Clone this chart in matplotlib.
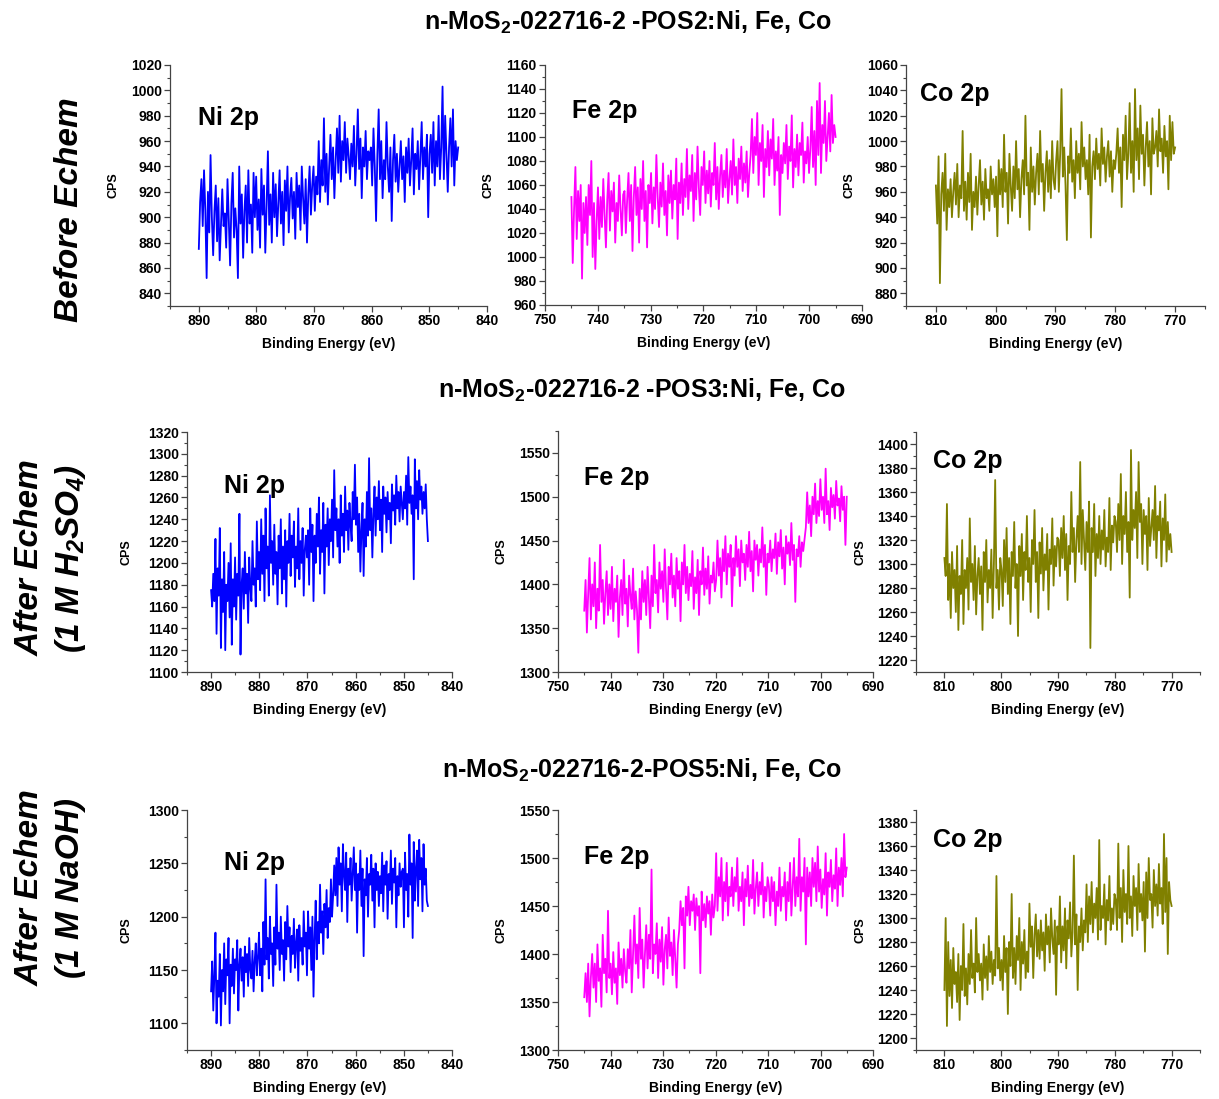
import numpy as np
import matplotlib
matplotlib.use("Agg")
import matplotlib.pyplot as plt
from matplotlib.ticker import MultipleLocator

plt.rcParams['font.family'] = ['Liberation Sans', 'DejaVu Sans']
plt.rcParams['font.weight'] = 'bold'
plt.rcParams['mathtext.fontset'] = 'custom'
plt.rcParams['mathtext.bf'] = 'Liberation Sans:bold'
plt.rcParams['mathtext.bfit'] = 'Liberation Sans:italic:bold'

# ---- data (counts per second) ----
# energy ranges of each scan (start, end) in eV
ni_range = (890, 845)
fe_range = (745, 695)
co_range = (810, 770)

# POS2 - before echem
ni_pos2 = [875, 912, 930, 893, 937, 905, 852, 920, 888, 949, 900, 870, 905, 925, 881, 915, 866, 895, 922, 893,
           903, 876, 930, 898, 862, 911, 935, 884, 907, 890, 852, 940, 895, 918, 868, 905, 925, 880, 937, 895,
           910, 872, 935, 900,
           932, 890, 914, 876, 938, 902, 925, 872, 909, 952, 894, 918, 880, 935, 900, 926, 885, 912, 937, 895,
           920, 878, 929, 905, 940, 888, 916, 931, 899, 920, 883, 935, 908, 925, 890, 940, 915, 895, 930, 880,
           918, 940, 902, 925,
           940, 905, 932, 918, 960, 912, 945, 925, 978, 920, 950, 910, 940, 965, 930, 955, 915, 945, 970, 935,
           980, 928, 960, 945, 975, 935, 962, 948, 930, 958, 940, 972, 925, 950, 985, 938, 962, 915, 955, 940,
           968, 930, 952, 945,
           955, 925, 970, 940, 897, 950, 985, 930, 960, 915, 945, 930, 975, 940, 920, 955, 897, 945, 965, 928,
           950, 920, 940, 960, 930, 948, 912, 955, 935, 962, 925, 945, 970, 918, 950, 938, 960, 922, 948, 975,
           930, 955, 940, 965,
           900, 950, 965, 935, 975, 925, 960, 940, 980, 930, 955, 1003, 930, 980, 950, 920, 955, 978, 940, 985,
           925, 960, 945, 955]
fe_pos2 = [1050, 995, 1040, 1075, 1015, 1055, 1030, 1060, 982, 1045, 1020, 1050, 1010, 1060, 1035, 1080, 1000,
           1045, 990, 1030, 1058, 1015, 1050, 1025, 1065, 1035, 1008, 1048, 1070, 1022, 1055, 1038, 1062, 1012,
           1045, 1030, 1068, 1040, 1018, 1052,
           1055, 1020, 1048, 1070, 1030, 1060, 1005, 1050, 1075, 1035, 1058, 1012, 1065, 1040, 1080, 1030, 1055,
           1008, 1060, 1045, 1070, 1028, 1058, 1040, 1085, 1050, 1025, 1062, 1042, 1078, 1035, 1055, 1018, 1068,
           1045, 1072, 1032, 1060, 1048, 1082,
           1015, 1062, 1045, 1078, 1035, 1065, 1050, 1090, 1040, 1068, 1055, 1085, 1030, 1070, 1048, 1092, 1058,
           1035, 1075, 1060, 1088, 1045, 1072, 1053, 1080, 1042, 1070, 1060, 1095, 1048, 1075, 1040, 1068, 1085,
           1050, 1072, 1058, 1090, 1045, 1065, 1080, 1052, 1098, 1060, 1075, 1045, 1082, 1065, 1092, 1055, 1078,
           1062, 1088, 1050, 1070, 1085,
           1115, 1070, 1100, 1085, 1120, 1060, 1095, 1080, 1110, 1050, 1090, 1075, 1105, 1068, 1098, 1082, 1115,
           1060, 1088, 1072, 1100, 1035, 1085, 1070, 1095, 1078, 1110, 1065, 1092, 1080, 1118, 1058, 1090, 1075,
           1102, 1068, 1095, 1085, 1112, 1062, 1088, 1078, 1100, 1070,
           1090, 1125, 1075, 1105, 1060, 1130, 1085, 1145, 1070, 1110, 1095, 1130, 1080, 1100, 1120, 1088, 1135,
           1095, 1110, 1100]
co_pos2 = [965, 935, 988, 888, 958, 975, 945, 990, 930, 962, 948, 970, 940, 960, 975, 950, 982, 940, 965, 955,
           1008, 945, 968, 938, 975, 952, 990, 930, 960, 948, 972, 942, 965, 985, 950, 968, 938, 978, 955, 962,
           945, 980, 958, 970, 948,
           972, 925, 985, 958, 978, 948, 1005, 960, 975, 935, 990, 965, 945, 980, 955, 1000, 962, 978, 940, 970,
           985, 958, 1020, 965, 975, 930, 995, 960, 980, 950, 975, 990, 958, 1008, 968, 982, 945, 975, 992, 960,
           985, 955, 1000, 970, 962,
           985, 1000, 960, 990, 1041, 972, 995, 965, 922, 988, 975, 1010, 968, 985, 955, 1000, 975, 990, 962,
           1015, 980, 995, 970, 985, 958, 1005, 924, 980, 992, 970, 1002, 978, 990, 965, 1010, 982, 995, 968,
           988, 1000, 972, 992, 960, 985, 978,
           990, 1010, 975, 995, 948, 1005, 985, 1020, 970, 990, 1030, 975, 1000, 960, 1041, 985, 1010, 970, 1028,
           990, 1005, 965, 995, 1015, 980, 1000, 958, 1018, 990, 995, 1008, 980, 1025, 992, 1002, 975, 1012, 988,
           1000, 962, 1020, 985, 1015, 990, 995]

# POS3 - after echem in 1 M H2SO4
ni_pos3 = [1175, 1160, 1190, 1165, 1222, 1135, 1195, 1170, 1232, 1122, 1185, 1155, 1210, 1120, 1180, 1165, 1200,
           1150, 1218, 1125, 1185, 1160, 1205, 1148, 1190, 1170, 1245, 1116, 1180, 1195, 1158, 1210, 1172, 1190,
           1145, 1205, 1178, 1165, 1220, 1180, 1195, 1160, 1238, 1185,
           1210, 1175, 1240, 1190, 1225, 1165, 1250, 1195, 1215, 1170, 1262, 1200, 1220, 1180, 1235, 1190, 1210,
           1162, 1225, 1195, 1240, 1172, 1215, 1185, 1230, 1160, 1220, 1200, 1245, 1188, 1225, 1205, 1238, 1178,
           1215, 1195, 1250, 1185, 1220, 1200, 1232, 1170, 1212, 1225,
           1205, 1230, 1180, 1250, 1210, 1235, 1165, 1225, 1200, 1245, 1215, 1260, 1190, 1230, 1210, 1255, 1172,
           1235, 1215, 1250, 1198, 1240, 1220, 1258, 1205, 1285, 1230, 1250, 1215, 1240, 1200, 1262, 1225, 1245,
           1210, 1270, 1230, 1248, 1212, 1255, 1235, 1220, 1265, 1240,
           1290, 1235, 1260, 1210, 1245, 1192, 1230, 1255, 1188, 1240, 1215, 1265, 1225, 1296, 1230, 1250, 1205,
           1245, 1270, 1225, 1260, 1240, 1275, 1230, 1258, 1210, 1270, 1245, 1260, 1228, 1265, 1240, 1255, 1218,
           1272, 1248, 1262, 1235, 1280, 1250, 1265, 1238, 1270, 1255,
           1240, 1265, 1250, 1280, 1235, 1297, 1255, 1270, 1245, 1262, 1185, 1295, 1250, 1275, 1240, 1285, 1258,
           1270, 1245, 1265, 1250, 1272, 1240, 1220]
fe_pos3 = [1370, 1405, 1345, 1390, 1430, 1360, 1400, 1375, 1425, 1350, 1395, 1370, 1445, 1380, 1405, 1355, 1390,
           1415, 1365, 1400, 1372, 1420, 1358, 1395, 1380, 1410, 1340, 1385, 1405, 1365, 1428, 1378, 1395, 1352,
           1410, 1388, 1372, 1418, 1360, 1392,
           1370, 1322, 1395, 1360, 1415, 1380, 1405, 1365, 1420, 1385, 1350, 1410, 1375, 1445, 1390, 1405, 1368,
           1425, 1395, 1415, 1380, 1440, 1395, 1360, 1420, 1400, 1435, 1385, 1410, 1375, 1430, 1395, 1415, 1358,
           1425, 1400, 1445, 1390, 1420, 1382, 1412, 1398, 1438, 1372, 1408, 1390, 1428, 1365, 1415, 1400, 1442,
           1388, 1418, 1395, 1432, 1378, 1410, 1402, 1425, 1392,
           1405, 1450, 1410, 1430, 1385, 1440, 1415, 1455, 1400, 1435, 1420, 1445, 1375, 1430, 1410, 1455, 1420,
           1440, 1398, 1450, 1425, 1435, 1405, 1445, 1420, 1460, 1415, 1438, 1392, 1450, 1428, 1445, 1410, 1440,
           1425, 1465, 1420, 1445, 1388, 1435, 1425, 1450, 1415, 1440, 1430, 1458, 1412, 1448, 1432, 1462, 1418,
           1442, 1400, 1455, 1435, 1448, 1422, 1470, 1428, 1445, 1380, 1440, 1432, 1455, 1420, 1448, 1438, 1452,
           1465, 1505, 1470, 1490, 1455, 1500, 1480, 1515, 1470, 1495, 1478, 1520, 1485, 1500, 1470, 1532, 1480,
           1495, 1462, 1510, 1488, 1502, 1475, 1518, 1490, 1498, 1472, 1512, 1485, 1500, 1445, 1500]
co_pos3 = [1305, 1290, 1350, 1270, 1300, 1255, 1310, 1280, 1295, 1260, 1315, 1245, 1290, 1275, 1320, 1250, 1295,
           1280, 1305, 1262, 1338, 1285, 1300, 1270, 1315, 1258, 1290, 1305, 1275, 1298, 1245, 1310, 1285, 1320,
           1268, 1295, 1280, 1312, 1255, 1300, 1370, 1280, 1295, 1262, 1305,
           1295, 1265, 1320, 1285, 1330, 1275, 1305, 1250, 1310, 1290, 1335, 1280, 1300, 1240, 1315, 1290, 1325,
           1270, 1310, 1295, 1340, 1285, 1305, 1260, 1320, 1300, 1345, 1285, 1310, 1255, 1318, 1292, 1330, 1278,
           1308, 1295, 1325, 1262, 1312, 1300, 1338, 1282, 1315, 1298, 1322,
           1320, 1290, 1330, 1305, 1340, 1295, 1325, 1270, 1315, 1300, 1360, 1310, 1330, 1285, 1320, 1340, 1310,
           1385, 1300, 1345, 1320, 1295, 1335, 1310, 1352, 1230, 1330, 1310, 1350, 1290, 1325, 1305, 1340, 1300,
           1328, 1312, 1345, 1298, 1322, 1310, 1355, 1295, 1332, 1318, 1340,
           1335, 1310, 1350, 1320, 1375, 1300, 1340, 1325, 1360, 1310, 1335, 1272, 1395, 1320, 1345, 1330, 1360,
           1305, 1385, 1335, 1350, 1300, 1345, 1325, 1340, 1295, 1355, 1315, 1330, 1345, 1320, 1365, 1305, 1340,
           1328, 1352, 1298, 1338, 1320, 1358, 1302, 1335, 1312, 1325, 1310]

# POS5 - after echem in 1 M NaOH
ni_pos5 = [1130, 1158, 1112, 1145, 1185, 1100, 1140, 1125, 1165, 1098, 1150, 1130, 1175, 1118, 1160, 1145, 1180,
           1100, 1155, 1135, 1170, 1128, 1160, 1150, 1178, 1112, 1155, 1170, 1140, 1162, 1125, 1172, 1148, 1165,
           1135, 1180, 1150, 1142, 1168, 1130, 1158, 1175, 1145, 1162,
           1185, 1145, 1170, 1130, 1195, 1155, 1235, 1160, 1180, 1142, 1200, 1165, 1175, 1135, 1190, 1155, 1230,
           1170, 1185, 1150, 1200, 1165, 1178, 1140, 1195, 1160, 1210, 1172, 1190, 1148, 1182, 1165, 1198, 1152,
           1175, 1188, 1140, 1192, 1168, 1180, 1155, 1205, 1172, 1185,
           1145, 1205, 1170, 1190, 1150, 1200, 1125, 1180, 1215, 1160, 1195, 1175, 1230, 1185, 1205, 1165, 1212,
           1190, 1225, 1180, 1208, 1195, 1235, 1200, 1220, 1248,
           1220, 1255, 1210, 1265, 1230, 1250, 1205, 1268, 1240, 1225, 1260, 1195, 1245, 1230, 1255, 1215, 1240,
           1265, 1225, 1250, 1185, 1240, 1225, 1262, 1210, 1245, 1163, 1235, 1220, 1255, 1200, 1240, 1230, 1258,
           1215, 1245, 1190, 1250, 1225, 1242, 1210, 1238, 1222, 1260, 1205, 1248, 1230, 1252, 1198, 1240, 1225,
           1262, 1212, 1245, 1232, 1255, 1190, 1238, 1220, 1250, 1228, 1242,
           1245, 1190, 1260, 1225, 1240, 1200, 1277, 1230, 1250, 1180, 1270, 1215, 1245, 1262, 1210, 1272, 1235,
           1255, 1205, 1268, 1230, 1245, 1215, 1210]
fe_pos5 = [1355, 1380, 1350, 1390, 1335, 1375, 1400, 1365, 1390, 1350, 1410, 1372, 1385, 1345, 1420, 1380, 1395,
           1360, 1445, 1375, 1390, 1358, 1402, 1370, 1385, 1348, 1412, 1378, 1395, 1365, 1405, 1382,
           1370, 1405, 1385, 1425, 1360, 1400, 1440, 1390, 1410, 1375, 1448, 1395, 1415, 1365, 1400, 1430, 1385,
           1420, 1395, 1488, 1380, 1410, 1400, 1432, 1375, 1415, 1392, 1428, 1368, 1405, 1420, 1385, 1438, 1398,
           1412, 1378, 1425, 1395, 1365, 1410,
           1425, 1455, 1430, 1448, 1385, 1460, 1440, 1470, 1430, 1455, 1445, 1462, 1425, 1458, 1440, 1450, 1380,
           1465, 1435, 1452, 1428, 1460, 1442, 1455, 1420, 1462, 1438, 1450,
           1505, 1445, 1480, 1460, 1500, 1435, 1475, 1455, 1495, 1440, 1470, 1460, 1490, 1450, 1480, 1465, 1500,
           1445, 1470, 1455, 1485, 1430, 1478, 1460, 1492, 1450, 1472, 1458, 1498, 1442, 1468, 1485, 1450, 1475,
           1462, 1495, 1438, 1470, 1455, 1480,
           1470, 1440, 1480, 1455, 1475, 1430, 1465, 1450, 1490, 1445, 1470, 1460, 1485, 1435, 1475, 1455, 1495,
           1440, 1470, 1500, 1450, 1480, 1460, 1520, 1445, 1480, 1465, 1500, 1410, 1490, 1460, 1485, 1450, 1500,
           1470, 1495, 1455, 1512, 1465, 1488, 1448, 1478, 1462, 1505, 1440, 1485, 1470, 1498, 1455, 1482, 1468,
           1510, 1450, 1490, 1472, 1500, 1460, 1525, 1480, 1490]
co_pos5 = [1240, 1300, 1210, 1280, 1235, 1265, 1225, 1275, 1245, 1255, 1230, 1270, 1215, 1260, 1240, 1295, 1235,
           1258, 1228, 1270, 1245, 1290, 1250, 1262, 1238, 1300, 1255, 1270, 1248, 1262, 1232, 1278, 1250, 1268,
           1240, 1285, 1255, 1272, 1245, 1265, 1252, 1335, 1258, 1275, 1248,
           1265, 1240, 1285, 1255, 1275, 1220, 1280, 1260, 1320, 1250, 1275, 1245, 1285, 1265, 1300, 1240, 1280,
           1262, 1290, 1250, 1272, 1255, 1312, 1276, 1293, 1250, 1286, 1303, 1268, 1290, 1266, 1298, 1273, 1288,
           1256, 1303, 1278, 1293, 1263, 1308, 1283, 1270, 1298, 1236, 1293,
           1278, 1318, 1263, 1293, 1273, 1308, 1258, 1298, 1283, 1313, 1268, 1288, 1352, 1278, 1303, 1240, 1293,
           1280, 1308, 1273, 1298, 1288, 1328, 1280, 1318, 1295, 1330, 1288, 1312, 1300, 1325, 1282, 1365, 1290,
           1310, 1300, 1328, 1278, 1315, 1298, 1335, 1290, 1308, 1295, 1320,
           1315, 1290, 1362, 1300, 1325, 1280, 1340, 1305, 1320, 1295, 1360, 1300, 1318, 1285, 1335, 1310, 1325,
           1290, 1345, 1305, 1320, 1298, 1330, 1272, 1338, 1300, 1350, 1315, 1320, 1292, 1340, 1310, 1328, 1302,
           1345, 1312, 1325, 1295, 1370, 1305, 1350, 1270, 1330, 1315, 1310]

row_titles = [r"n-MoS$_{\mathbf{2}}$-022716-2 -POS2:Ni, Fe, Co",
              r"n-MoS$_{\mathbf{2}}$-022716-2 -POS3:Ni, Fe, Co",
              r"n-MoS$_{\mathbf{2}}$-022716-2-POS5:Ni, Fe, Co"]

W, H = 1219, 1099
fig = plt.figure(figsize=(W / 100, H / 100), dpi=100)


def px_axes(l, t, r, b):
    # axes from pixel box (left, top, right, bottom)
    return fig.add_axes([l / W, 1 - b / H, (r - l) / W, (b - t) / H])


def panel(box, rng, xlim, vals, color, ylim, ystep, label, lab_xy, cps_x):
    ax = px_axes(*box)
    x = np.linspace(rng[0], rng[1], len(vals))
    ax.plot(x, vals, color=color, lw=1.3)
    ax.set_xlim(*xlim)
    ax.set_ylim(*ylim)
    ax.xaxis.set_major_locator(MultipleLocator(10))
    ax.xaxis.set_minor_locator(MultipleLocator(5))
    ax.yaxis.set_major_locator(MultipleLocator(ystep))
    ax.yaxis.set_minor_locator(MultipleLocator(ystep / 2))
    ax.spines['top'].set_visible(False)
    ax.spines['right'].set_visible(False)
    for s in ('left', 'bottom'):
        ax.spines[s].set_color('#444444')
        ax.spines[s].set_linewidth(0.9)
    ax.tick_params(which='major', length=4, width=0.9, color='#444444', labelsize=10, pad=2)
    ax.tick_params(which='minor', length=2, width=0.8, color='#444444')
    for t in ax.get_xticklabels() + ax.get_yticklabels():
        t.set_fontweight('bold')
    ax.set_xlabel("Binding Energy (eV)", fontsize=10, fontweight='bold', labelpad=6)
    ax.set_ylabel("CPS", fontsize=9, fontweight='bold')
    ax.yaxis.set_label_coords(cps_x, 0.5)
    ax.text(lab_xy[0], lab_xy[1], label, transform=ax.transAxes, fontsize=18,
            fontweight='bold', ha='left', va='center')
    return ax


blue, magenta, olive = '#0000ff', '#ff00ff', '#808000'

# row 1
panel((170, 65, 487, 306), ni_range, (895, 840), ni_pos2, blue, (830, 1020), 20, "Ni 2p", (0.088, 0.78), -0.158)
panel((545, 65, 862, 305), fe_range, (750, 690), fe_pos2, magenta, (960, 1160), 20, "Fe 2p", (0.085, 0.81), -0.158)
panel((906, 65, 1205, 306), co_range, (815, 765), co_pos2, olive, (870, 1060), 20, "Co 2p", (0.047, 0.88), -0.17)

# row 2
panel((187, 432, 452, 672), ni_range, (895, 840), ni_pos3, blue, (1100, 1320), 20, "Ni 2p", (0.14, 0.775), -0.204)
panel((558, 431, 873, 672), fe_range, (750, 690), fe_pos3, magenta, (1300, 1575), 50, "Fe 2p", (0.083, 0.805), -0.159)
panel((916, 432, 1200, 672), co_range, (815, 765), co_pos3, olive, (1210, 1410), 20, "Co 2p", (0.06, 0.88), -0.176)

# row 3
panel((187, 810, 452, 1050), ni_range, (895, 840), ni_pos5, blue, (1075, 1300), 50, "Ni 2p", (0.14, 0.78), -0.204)
panel((558, 810, 873, 1050), fe_range, (750, 690), fe_pos5, magenta, (1300, 1550), 50, "Fe 2p", (0.083, 0.805), -0.159)
panel((916, 810, 1200, 1050), co_range, (815, 765), co_pos5, olive, (1190, 1390), 20, "Co 2p", (0.06, 0.875), -0.176)

# row titles
fig.text(628 / W, 1 - 22 / H, row_titles[0], fontsize=18, fontweight='bold', ha='center', va='center')
fig.text(642 / W, 1 - 390 / H, row_titles[1], fontsize=18, fontweight='bold', ha='center', va='center')
fig.text(642 / W, 1 - 770 / H, row_titles[2], fontsize=18, fontweight='bold', ha='center', va='center')

# row labels on the left
fig.text(70 / W, 1 - 210 / H, "Before Echem", fontsize=24, fontweight='bold', style='italic',
         rotation=90, ha='center', va='center')
fig.text(30 / W, 1 - 558 / H, "After Echem", fontsize=24, fontweight='bold', style='italic',
         rotation=90, ha='center', va='center')
fig.text(70 / W, 1 - 558 / H, r"(1 M H$_{\mathbfit{2}}$SO$_{\mathbfit{4}}$)", fontsize=24, fontweight='bold',
         style='italic', rotation=90, ha='center', va='center')
fig.text(30 / W, 1 - 888 / H, "After Echem", fontsize=24, fontweight='bold', style='italic',
         rotation=90, ha='center', va='center')
fig.text(70 / W, 1 - 888 / H, "(1 M NaOH)", fontsize=24, fontweight='bold', style='italic',
         rotation=90, ha='center', va='center')

fig.savefig("out.png", dpi=100)
